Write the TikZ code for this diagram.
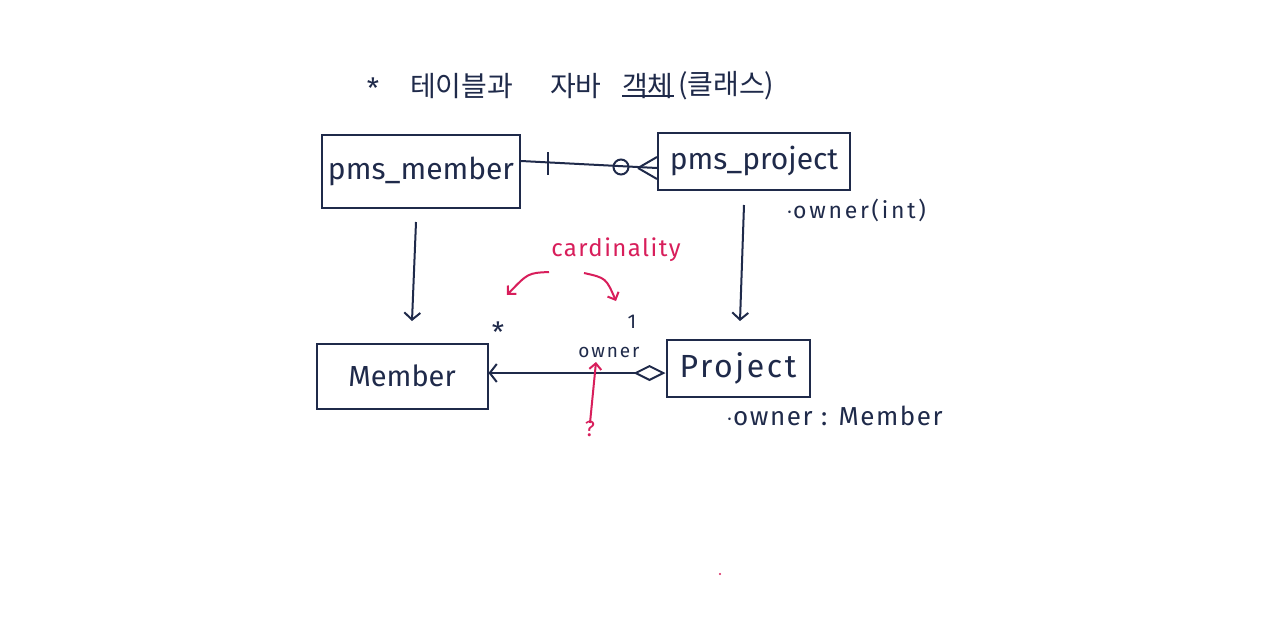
\documentclass[tikz,border=0pt]{standalone}
\usepackage{fontspec}
\setmainfont{Fira Sans}
\newfontfamily\krfont{Noto Sans CJK KR}
\usetikzlibrary{arrows.meta}
\definecolor{ink}{HTML}{1F2A4A}
\definecolor{pen}{HTML}{D81E5B}
\tikzset{
  box/.style={draw=ink, line width=2pt, text=ink, inner sep=0pt},
  lbl/.style={text=ink, inner sep=0pt},
  kr/.style={text=ink, inner sep=0pt, anchor=west, font=\krfont\fontsize{28}{30}\selectfont},
  conn/.style={draw=ink, line width=2pt},
  redline/.style={draw=pen, line width=2pt},
  barb/.style={-{Straight Barb[length=7pt,width=16pt,line width=2pt]}},
  redbarb/.style={-{Straight Barb[length=6pt,width=12pt,line width=2pt]}},
}
\begin{document}
\begin{tikzpicture}[x=1pt,y=-1pt]
\useasboundingbox[fill=white] (0,0) rectangle (1280,635);
% title
\node[lbl, font=\fontsize{28}{28}\selectfont] (star0) at (373,88) {*};
\node[kr] (t1) at (410,86) {테이블과};
\node[kr] (t2) at (550,86) {자바};
\node[kr] (t3) at (622,86) {객체};
\node[kr] (t4) at (678,86) {(클래스)};
\coordinate (ulA) at ([yshift=3pt]t3.south west);
\coordinate (ulB) at ([yshift=3pt]t3.south east);
\draw[conn] (ulA) -- (ulB);
% top boxes
\node[box, minimum width=198pt, minimum height=73pt, font=\fontsize{30}{32}\selectfont] (pm) at (421,171) {pms\_member};
\node[box, minimum width=192pt, minimum height=57pt, font=\fontsize{30}{32}\selectfont] (pp) at (754,161) {pms\_project};
\node[lbl, anchor=west, font=\addfontfeature{LetterSpace=12}\fontsize{23}{24}\selectfont] (ppattr) at (786,210) {$\cdot$owner(int)};
% ERD connector
\coordinate (erdA) at (pm.east |- 0,161);
\coordinate (erdB) at (pp.west |- 0,168);
\draw[conn] (erdA) -- (erdB);
\coordinate (barT) at (548,152);
\coordinate (barB) at (548,175);
\draw[conn] (barT) -- (barB);
\node[draw=ink, line width=2pt, circle, minimum size=15pt, inner sep=0pt] (zero) at (621,167) {};
\coordinate (cf) at (638,168);
\draw[conn] (cf) -- ([yshift=-11pt]erdB);
\draw[conn] (cf) -- ([yshift=11pt]erdB);
% vertical arrows
\coordinate (v1a) at (416,222);
\coordinate (v1b) at (412,321);
\draw[conn, barb] (v1a) -- (v1b);
\coordinate (v2a) at (744,205);
\coordinate (v2b) at (740,321);
\draw[conn, barb] (v2a) -- (v2b);
% cardinality
\node[text=pen, inner sep=0pt, font=\addfontfeature{LetterSpace=6}\fontsize{24}{26}\selectfont] (card) at (616,250) {cardinality};
\coordinate (c1a) at (549,272);
\coordinate (c1b) at (507,295);
\draw[redline, redbarb] (c1a) .. controls (528,273) .. (c1b);
\coordinate (c2a) at (584,273);
\coordinate (c2b) at (616,301);
\draw[redline, redbarb] (c2a) .. controls (606,278) .. (c2b);
\node[lbl, font=\fontsize{28}{28}\selectfont] (mstar) at (498,332) {*};
\node[lbl, font=\fontsize{20}{22}\selectfont] (one) at (632,322) {1};
% bottom boxes
\node[box, minimum width=171pt, minimum height=65pt, font=\fontsize{29}{31}\selectfont] (mem) at (402,376) {Member};
\node[box, minimum width=143pt, minimum height=57pt, font=\addfontfeature{LetterSpace=8}\fontsize{32}{34}\selectfont] (proj) at (738,368) {Project};
\node[lbl, anchor=west, font=\addfontfeature{LetterSpace=6}\fontsize{26}{28}\selectfont] (projattr) at (726,416) {$\cdot$owner : Member};
% association
\draw[conn, {Diamond[open,length=32pt,width=16pt,line width=2pt]}-{Straight Barb[length=7pt,width=18pt,line width=2pt]}] (proj.west |- 0,373) -- (mem.east |- 0,373);
\node[lbl, font=\addfontfeature{LetterSpace=10}\fontsize{19}{21}\selectfont] (own) at (609,352) {owner};
% question
\node[text=pen, inner sep=0pt, font=\fontsize{22}{24}\selectfont] (q) at (590,429) {?};
\coordinate (qtip) at (596,362);
\draw[redline, redbarb] ([yshift=-2pt]q.north) -- (qtip);
\coordinate (dot) at (720,574);
\fill[pen] (dot) circle (1.2pt);
\end{tikzpicture}
\end{document}
